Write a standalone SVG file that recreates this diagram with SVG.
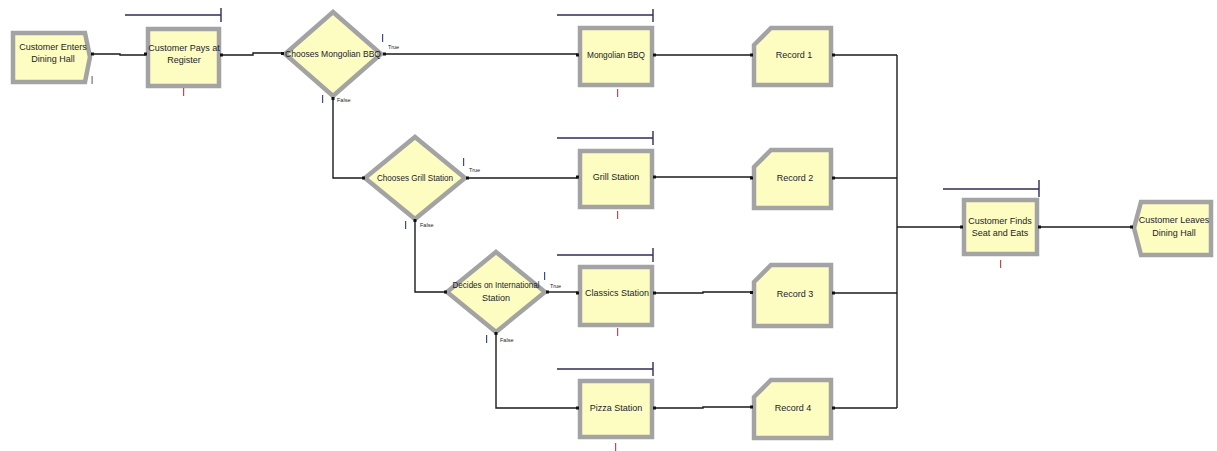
<svg xmlns="http://www.w3.org/2000/svg" width="1217" height="451" viewBox="0 0 1217 451">
<style>
.mod{fill:#fdfdc2;stroke:#a3a3a3;stroke-width:4.5;stroke-linejoin:miter}
.t{font-family:"Liberation Sans",Arial,sans-serif;font-size:9px;fill:#1c1c2c;text-anchor:middle}
.lb{font-family:"Liberation Sans",Arial,sans-serif;font-size:5.5px;fill:#222}
.q{stroke:#2e2e55;stroke-width:1.4;fill:none}
.c{stroke:#1a1a1a;stroke-width:1.4;fill:none}
.red{fill:#c24a4a}
.blue{fill:#3a4a9a}
.gray{fill:#777}
.pt{fill:#111}
</style>
<rect width="1217" height="451" fill="#ffffff"/>

<g id="connectors">
<path class="c" d="M93,54 H120 V55 H146"/>
<path class="c" d="M221,55 H253 V53 H283"/>
<path class="c" d="M384,54 H578"/>
<path class="c" d="M333,98 V178 H364"/>
<path class="c" d="M655,55 H752"/>
<path class="c" d="M833,55 H897"/>
<path class="c" d="M467,178 H578"/>
<path class="c" d="M415,220 V292 H446"/>
<path class="c" d="M655,177 H752"/>
<path class="c" d="M833,178 H897"/>
<path class="c" d="M547,292 H578"/>
<path class="c" d="M496,333 V408 H578"/>
<path class="c" d="M655,293 H703 V292 H752"/>
<path class="c" d="M833,293 H897"/>
<path class="c" d="M655,408 H703 V407 H752"/>
<path class="c" d="M833,408 H897"/>
<path class="c" d="M897,55 V408"/>
<path class="c" d="M897,227 H962"/>
<path class="c" d="M1040,227 H1132"/>
</g>

<g id="create">
<polygon class="mod" points="13,33 85,33 90,57 85,82 13,82"/>
<text class="t" x="53" y="50">Customer Enters</text>
<text class="t" x="53" y="62">Dining Hall</text>
<rect class="pt" x="91" y="52.5" width="3" height="3"/>
<rect class="gray" x="91.5" y="76" width="1.2" height="8"/>
</g>

<g id="pays">
<rect class="mod" x="148" y="29" width="71" height="57"/>
<text class="t" x="184" y="51">Customer Pays at</text>
<text class="t" x="184" y="63">Register</text>
<path class="q" d="M125,15 H221 M221,8 V22"/>
<rect class="pt" x="144" y="52.5" width="3" height="3"/>
<rect class="pt" x="220" y="53.5" width="3" height="3"/>
<rect class="red" x="183" y="88" width="1.2" height="8"/>
</g>

<g id="dec1">
<polygon class="mod" points="333,12 381,54 333,96 285,54"/>
<text class="t" x="333" y="57" textLength="96" lengthAdjust="spacingAndGlyphs">Chooses Mongolian BBQ</text>
<rect class="pt" x="281" y="52" width="3" height="3"/>
<rect class="pt" x="383" y="52.5" width="3" height="3"/>
<rect class="pt" x="331.5" y="97" width="3" height="3"/>
<text class="lb" x="388" y="49">True</text>
<text class="lb" x="337" y="102">False</text>
<rect class="blue" x="382" y="34" width="1.2" height="8"/>
<rect class="blue" x="322" y="95" width="1.2" height="8"/>
</g>

<g id="mongolian">
<rect class="mod" x="580" y="28" width="72" height="57"/>
<text class="t" x="616" y="58" textLength="58" lengthAdjust="spacingAndGlyphs">Mongolian BBQ</text>
<path class="q" d="M557,15 H653 M653,9 V22"/>
<rect class="pt" x="576" y="53.5" width="3" height="3"/>
<rect class="pt" x="653" y="53.5" width="3" height="3"/>
<rect class="red" x="617" y="89" width="1.2" height="8"/>
</g>

<g id="record1">
<polygon class="mod" points="754,45 771,28 831,28 831,85 754,85"/>
<text class="t" x="794" y="58">Record 1</text>
<rect class="pt" x="750" y="53.5" width="3" height="3"/>
<rect class="pt" x="832" y="53.5" width="3" height="3"/>
</g>

<g id="dec2">
<polygon class="mod" points="415,137 465,178 415,219 365,178"/>
<text class="t" x="415" y="181" textLength="76" lengthAdjust="spacingAndGlyphs">Chooses Grill Station</text>
<rect class="pt" x="362" y="176.5" width="3" height="3"/>
<rect class="pt" x="466" y="176.5" width="3" height="3"/>
<rect class="pt" x="413.5" y="219" width="3" height="3"/>
<text class="lb" x="469" y="172">True</text>
<text class="lb" x="420" y="227">False</text>
<rect class="blue" x="463" y="158" width="1.2" height="8"/>
<rect class="blue" x="405" y="221" width="1.2" height="8"/>
</g>

<g id="grill">
<rect class="mod" x="580" y="151" width="72" height="56"/>
<text class="t" x="616" y="180">Grill Station</text>
<path class="q" d="M557,138 H653 M653,131 V145"/>
<rect class="pt" x="576" y="175.5" width="3" height="3"/>
<rect class="pt" x="653" y="175.5" width="3" height="3"/>
<rect class="red" x="617" y="211" width="1.2" height="8"/>
</g>

<g id="record2">
<polygon class="mod" points="754,167 771,150 831,150 831,208 754,208"/>
<text class="t" x="795" y="181">Record 2</text>
<rect class="pt" x="750" y="176.5" width="3" height="3"/>
<rect class="pt" x="832" y="176.5" width="3" height="3"/>
</g>

<g id="dec3">
<polygon class="mod" points="496,252 545,292 496,332 447,292"/>
<text class="t" x="496" y="288" textLength="87" lengthAdjust="spacingAndGlyphs">Decides on International</text>
<text class="t" x="496" y="301">Station</text>
<rect class="pt" x="444" y="290.5" width="3" height="3"/>
<rect class="pt" x="546" y="290.5" width="3" height="3"/>
<rect class="pt" x="494.5" y="332" width="3" height="3"/>
<text class="lb" x="550" y="288">True</text>
<text class="lb" x="500" y="342">False</text>
<rect class="blue" x="544" y="272" width="1.2" height="8"/>
<rect class="blue" x="486" y="335" width="1.2" height="8"/>
</g>

<g id="classics">
<rect class="mod" x="580" y="267" width="72" height="58"/>
<text class="t" x="617" y="296">Classics Station</text>
<path class="q" d="M557,255 H653 M653,248 V262"/>
<rect class="pt" x="576" y="291.5" width="3" height="3"/>
<rect class="pt" x="653" y="291.5" width="3" height="3"/>
<rect class="red" x="617" y="328" width="1.2" height="8"/>
</g>

<g id="record3">
<polygon class="mod" points="754,282 771,265 831,265 831,326 754,326"/>
<text class="t" x="795" y="297">Record 3</text>
<rect class="pt" x="750" y="291" width="3" height="3"/>
<rect class="pt" x="832" y="291.5" width="3" height="3"/>
</g>

<g id="pizza">
<rect class="mod" x="580" y="381" width="72" height="56"/>
<text class="t" x="616" y="411">Pizza Station</text>
<path class="q" d="M557,369 H653 M653,362 V376"/>
<rect class="pt" x="576" y="406.5" width="3" height="3"/>
<rect class="pt" x="653" y="406.5" width="3" height="3"/>
<rect class="red" x="615" y="443" width="1.2" height="8"/>
</g>

<g id="record4">
<polygon class="mod" points="754,397 771,380 831,380 831,438 754,438"/>
<text class="t" x="793" y="411">Record 4</text>
<rect class="pt" x="750" y="405.5" width="3" height="3"/>
<rect class="pt" x="832" y="406.5" width="3" height="3"/>
</g>

<g id="seat">
<rect class="mod" x="964" y="200" width="73" height="54"/>
<text class="t" x="1000" y="224">Customer Finds</text>
<text class="t" x="1000" y="236">Seat and Eats</text>
<path class="q" d="M943,189 H1039 M1039,180 V197"/>
<rect class="pt" x="960" y="225.5" width="3" height="3"/>
<rect class="pt" x="1038" y="225.5" width="3" height="3"/>
<rect class="red" x="1000" y="260" width="1.2" height="8"/>
</g>

<g id="leaves">
<polygon class="mod" points="1141,202 1211,202 1211,255 1141,255 1134,228"/>
<text class="t" x="1174" y="223">Customer Leaves</text>
<text class="t" x="1174" y="236">Dining Hall</text>
<rect class="pt" x="1130" y="225.5" width="3" height="3"/>
</g>
</svg>
